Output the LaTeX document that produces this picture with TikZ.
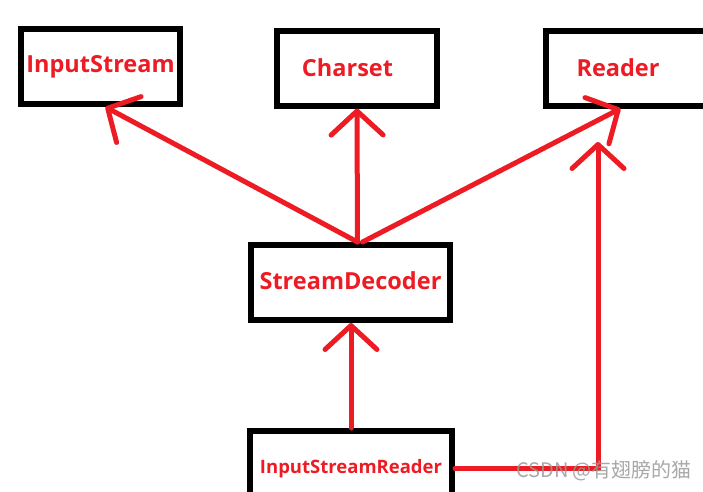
\documentclass[tikz,border=0pt]{standalone}
\usepackage{fontspec}
\setmainfont{Open Sans}
\newfontfamily\cjkfont{Noto Sans CJK SC}
\usetikzlibrary{arrows.meta}
\definecolor{paintred}{RGB}{237,28,36}
\tikzset{
  classbox/.style={draw=black,line width=6pt,minimum height=75pt,inner sep=0pt,
    text=paintred,font=\bfseries\fontsize{23.5}{28}\selectfont},
  link/.style={draw=paintred,line width=5pt,line cap=round,
    -{Straight Barb[length=24pt,width=52pt,round]}},
}
\begin{document}
\begin{tikzpicture}[x=1pt,y=-1pt]
  \clip (0,0) rectangle (703,491);
  \fill[white] (0,0) rectangle (703,491);
  \node[classbox,minimum width=159pt] (is) at (100.5,66.5) {\raisebox{-3pt}{InputStream}};
  \node[classbox,minimum width=160pt] (cs) at (357,68) {\raisebox{-3pt}{Charset}\kern19pt};
  \node[classbox,minimum width=161pt] (rd) at (626.5,68) {Reader\kern17pt};
  \node[classbox,minimum width=199pt] (sd) at (350.5,282.5) {\raisebox{3pt}{StreamDecoder}};
  \node[classbox,minimum width=202pt,font=\bfseries\fontsize{18.5}{22}\selectfont] (isr) at (351,468.5) {\raisebox{-3pt}{InputStreamReader}};
  \coordinate (fork) at ([xshift=7pt]sd.north);
  \coordinate (rdin) at (598,142);
  \draw[link] (fork) -- ([xshift=5pt]is.south);
  \draw[link] (fork) -- (cs.south);
  \draw[link] ([xshift=5pt]fork) -- ([xshift=-6pt]rd.south);
  \draw[link] (isr.north) -- (isr.north |- sd.south);
  \draw[link] (isr.east) -| (rdin);
  % watermark
  \node[text=gray!80,opacity=0.85,font=\cjkfont\fontsize{20}{24}\selectfont] (wm) at (604,471) {CSDN @有翅膀的猫};
\end{tikzpicture}
\end{document}
